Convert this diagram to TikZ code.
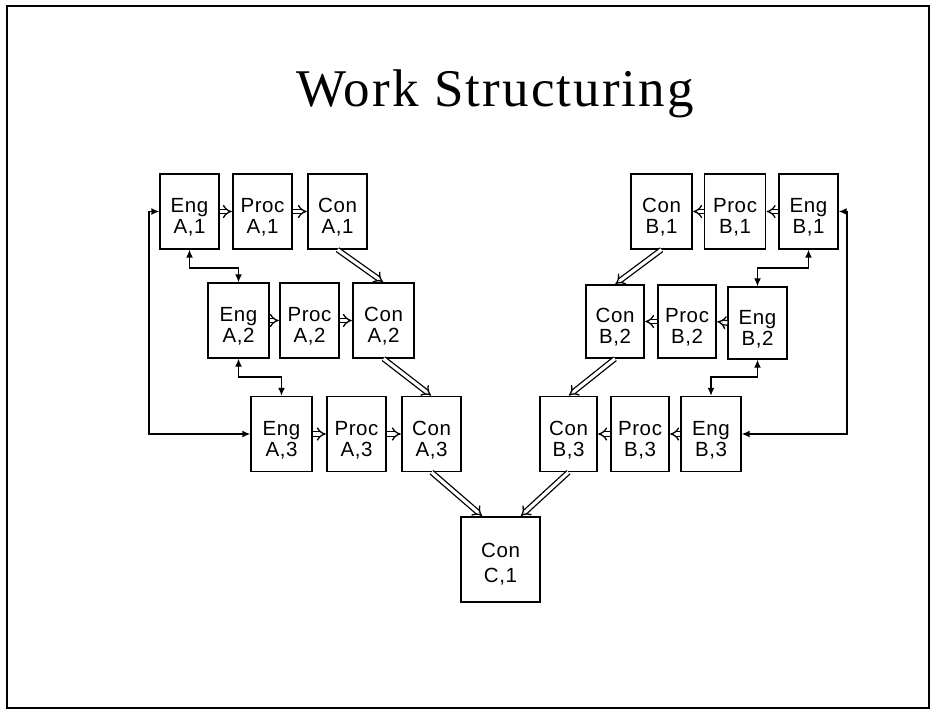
\documentclass[tikz,border=0pt]{standalone}
\usepackage{fontspec}
\setmainfont[LetterSpace=3]{Liberation Sans}
\newfontfamily\titlefont[LetterSpace=4]{Liberation Serif}
\usetikzlibrary{arrows.meta,calc}
\newcommand\bt[3][7.5pt]{\raisebox{-#1}[\height][\depth]{\begin{tabular}{@{}c@{}}#2\\#3\end{tabular}}}
\tikzset{
  wbox/.style={draw, line width=1.4pt, minimum width=59pt, minimum height=75pt,
    inner sep=0pt, font=\fontsize{20.5}{21}\selectfont},
  bigbox/.style={wbox, minimum width=79pt, minimum height=85pt, font=\fontsize{20.5}{25}\selectfont},
  hollow/.style={double, double distance=3.2pt, line width=1.3pt, -{Implies}, shorten >=0.5pt},
  loopline/.style={line width=1.4pt, {Latex[length=8pt,width=7pt]}-{Latex[length=8pt,width=7pt]}},
  ttl/.style={font=\titlefont\fontsize{53}{60}\selectfont, anchor=base, inner sep=0pt}
}
\begin{document}
\begin{tikzpicture}[x=1pt,y=-1pt]
\useasboundingbox (0,0) rectangle (935,714);
\draw[line width=2pt] (7,6) rectangle (929,708);
\node[ttl] (title) at (495,107) {Work Structuring};
% A side
\node[wbox] (EA1) at (189.5,211.5) {\bt{Eng}{A,1}};
\node[wbox] (PA1) at (262.5,211.5) {\bt{Proc}{A,1}};
\node[wbox] (CA1) at (337.5,211.5) {\bt{Con}{A,1}};
\node[wbox, minimum width=61pt] (EA2) at (238.5,320.5) {\bt{Eng}{A,2}};
\node[wbox] (PA2) at (309.5,320.5) {\bt{Proc}{A,2}};
\node[wbox, minimum width=61pt] (CA2) at (383.5,320.5) {\bt{Con}{A,2}};
\node[wbox, minimum width=61pt] (EA3) at (281.5,434) {\bt{Eng}{A,3}};
\node[wbox] (PA3) at (356.5,434) {\bt{Proc}{A,3}};
\node[wbox] (CA3) at (431.5,434) {\bt{Con}{A,3}};
% B side
\node[wbox, minimum width=61pt] (CB1) at (661.5,211.5) {\bt{Con}{B,1}};
\node[wbox, minimum width=61pt] (PB1) at (735,211.5) {\bt{Proc}{B,1}};
\node[wbox] (EB1) at (808.5,211.5) {\bt{Eng}{B,1}};
\node[wbox, minimum width=58pt, minimum height=73pt] (CB2) at (615,321.5) {\bt{Con}{B,2}};
\node[wbox, minimum width=58pt, minimum height=73pt] (PB2) at (687,321.5) {\bt{Proc}{B,2}};
\node[wbox, minimum height=72pt] (EB2) at (757.5,323) {\bt{Eng}{B,2}};
\node[wbox, minimum width=57pt] (CB3) at (568.5,434) {\bt{Con}{B,3}};
\node[wbox, minimum width=58pt] (PB3) at (640,434) {\bt{Proc}{B,3}};
\node[wbox, minimum width=60pt] (EB3) at (711,434) {\bt{Eng}{B,3}};
% C
\node[bigbox] (C1) at (500.5,559.5) {\bt[5pt]{Con}{C,1}};
% helper coordinates
\coordinate (lx) at (149,0);
\coordinate (rx) at (847,0);
\coordinate (m1) at (0,268);
\coordinate (m2) at (0,377);
\coordinate (ca) at ($(C1.north)+(-18,0)$);
\coordinate (cb) at ($(C1.north)+(20,0)$);
% loops
\draw[loopline] (EA1.west) -- (EA1.west -| lx) -- (EA3.west -| lx) -- (EA3.west);
\draw[loopline] (EB1.east) -- (EB1.east -| rx) -- (EB3.east -| rx) -- (EB3.east);
\draw[loopline] (EA1.south) |- (EA2.north |- m1) -- (EA2.north);
\draw[loopline] (EA2.south) |- (EA3.north |- m2) -- (EA3.north);
\draw[loopline] (EB1.south) |- (EB2.north |- m1) -- (EB2.north);
\draw[loopline] (EB2.south) |- (EB3.north |- m2) -- (EB3.north);
% hollow flow arrows
\draw[hollow] (EA1.east) -- (PA1.west);
\draw[hollow] (PA1.east) -- (CA1.west);
\draw[hollow] (EA2.east) -- (PA2.west);
\draw[hollow] (PA2.east) -- (CA2.west);
\draw[hollow] (EA3.east) -- (PA3.west);
\draw[hollow] (PA3.east) -- (CA3.west);
\draw[hollow] (EB1.west) -- (PB1.east);
\draw[hollow] (PB1.west) -- (CB1.east);
\draw[hollow] (EB2.west) -- (PB2.east);
\draw[hollow] (PB2.west) -- (CB2.east);
\draw[hollow] (EB3.west) -- (PB3.east);
\draw[hollow] (PB3.west) -- (CB3.east);
\draw[hollow] (CA1.south) -- (CA2.north);
\draw[hollow] (CA2.south) -- (CA3.north);
\draw[hollow] (CA3.south) -- (ca);
\draw[hollow] (CB1.south) -- (CB2.north);
\draw[hollow] (CB2.south) -- (CB3.north);
\draw[hollow] (CB3.south) -- (cb);
\end{tikzpicture}
\end{document}
